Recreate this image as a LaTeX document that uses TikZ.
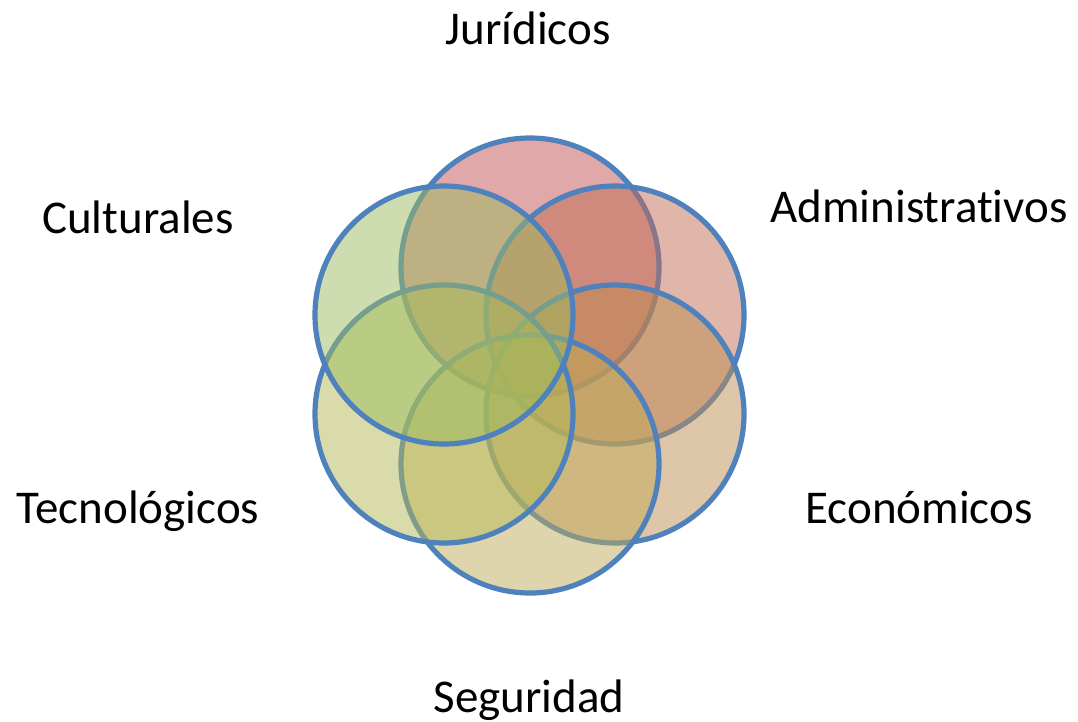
\documentclass[tikz,border=0pt]{standalone}
\usepackage{fontspec}
\setmainfont[Ligatures=NoCommon]{Carlito}
\definecolor{cjur}{RGB}{193,81,81}
\definecolor{cadm}{RGB}{193,109,85}
\definecolor{ceco}{RGB}{189,141,81}
\definecolor{cseg}{RGB}{191,171,89}
\definecolor{ctec}{RGB}{179,185,85}
\definecolor{ccul}{RGB}{155,187,95}
\definecolor{cline}{RGB}{79,129,189}
\tikzset{
  ring/.style={circle, minimum size=258pt, inner sep=0pt, draw=cline, line width=5.2pt, fill=#1, fill opacity=0.5, draw opacity=1},
  lbl/.style={font=\fontsize{47}{56}\selectfont, anchor=base, inner sep=0pt, text=black}
}
\begin{document}
\begin{tikzpicture}[x=1pt,y=-1pt]
\useasboundingbox (0,0) rectangle (1078,721);
\node[ring=cjur] (jur) at (530,267) {};
\node[ring=cadm] (adm) at (615,315) {};
\node[ring=ceco] (eco) at (615,414) {};
\node[ring=cseg] (seg) at (530,464) {};
\node[ring=ctec] (tec) at (444,414) {};
\node[ring=ccul] (cul) at (444,315) {};
\node[lbl] (tjur) at (528,44) {Jurídicos};
\node[lbl] (tadm) at (919,222) {Administrativos};
\node[lbl] (tcul) at (138,233) {Culturales};
\node[lbl] (ttec) at (138,523) {Tecnológicos};
\node[lbl] (teco) at (919,523) {Económicos};
\node[lbl] (tseg) at (529,712) {Seguridad};
\end{tikzpicture}
\end{document}
